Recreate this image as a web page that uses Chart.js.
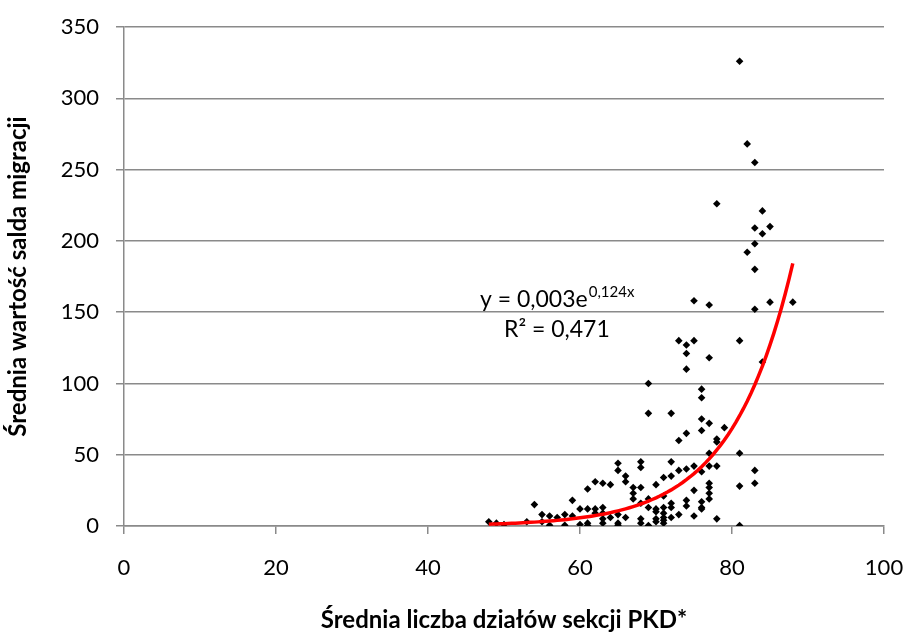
<!DOCTYPE html>
<html>
<head>
<meta charset="utf-8">
<script src="https://cdn.jsdelivr.net/npm/chart.js@4"></script>
<style>
  html, body { margin: 0; padding: 0; background: #fff; }
  #wrap { width: 907px; height: 633px; }
</style>
</head>
<body>
<div id="wrap"><canvas id="myChart" width="907" height="633"></canvas></div>
<script>
// srednia liczba dzialow PKD (x) i srednie saldo migracji (y)
let dzialy = [81,82,83,78,84,85,83,84,82,83,83,75,77,83,85,88,73,75,74,74,81,77,74,84,69,76,76,69,72,76,
  77,79,74,76,73,78,78,77,81,65,65,68,68,72,74,73,75,76,77,78,83,83,81,66,66,63,64,62,61,71,
  72,70,77,77,77,77,67,68,67,67,68,69,71,75,74,74,76,76,72,72,69,70,70,71,71,73,75,78,81,71,
  71,70,69,68,68,70,71,65,66,64,65,65,63,63,63,63,62,62,61,61,61,60,60,59,59,58,58,57,56,56,
  55,55,54,53,50,49,48,72,76]
let saldo = [326,268,255,226,221,210,209,205,192,198,180,158,155,152,157,157,130,130,127,121,130,118,110,115,100,96,90,79,79,75,
  72,69,65,67,60,61,59,51,51,44,39,45,41,45,40,39,42,38,42,42,39,30,28,35,31,30,29,31,26,34,
  35,29,30,27,23,19,27,27,23,19,16,19,21,25,18,14,17,12,16,13,13,12,10,13,9,8,7,5,0.3,6,
  2,3,0.3,5,2,5,4,8,6,6,2,0.5,13,9,5,2,12,9,12,2,0.3,12,1,18,7,8,0.5,6,7,0.5,
  8,3,15,3,1,2,3,6,13]

// linia trendu wykladniczego: y = a * e^(b x)
let trendA = 0.00336
let trendB = 0.124
let trendOd = 48
let trendDo = 88

let xTicks = [0,20,40,60,80,100]
let yTicks = [0,50,100,150,200,250,300,350]

let punkty = dzialy.map((x, i) => ({x: x, y: saldo[i]}))
let trend = []
for (let x = trendOd; x <= trendDo + 0.001; x += 0.5) {
  trend.push({x: x, y: trendA * Math.exp(trendB * x)})
}

const szary = '#8a8a8a'
const fontRodzina = 'Lato, "Open Sans", sans-serif'

const rownanie = {
  id: 'rownanie',
  afterDatasetsDraw(chart) {
    const ctx = chart.ctx
    ctx.save()
    ctx.fillStyle = '#000'
    ctx.textBaseline = 'alphabetic'
    ctx.font = '23px ' + fontRodzina
    ctx.fillText('y = 0,003e', 480, 307)
    let w = ctx.measureText('y = 0,003e').width
    ctx.font = '15px ' + fontRodzina
    ctx.fillText('0,124x', 480 + w + 1, 297)
    ctx.font = '23px ' + fontRodzina
    ctx.fillText('R\u00b2 = 0,471', 504, 337)
    ctx.restore()
  }
}

const config = {
  type: 'scatter',
  data: {
    datasets: [{
      label: 'punkty',
      data: punkty,
      pointStyle: 'rectRot',
      pointRadius: 3.8,
      backgroundColor: '#000',
      borderColor: '#000',
      borderWidth: 0,
      order: 2
    }, {
      type: 'line',
      label: 'trend',
      data: trend,
      borderColor: '#ff0000',
      borderWidth: 3.5,
      pointRadius: 0,
      fill: false,
      tension: 0,
      order: 1
    }]
  },
  options: {
    responsive: false,
    animation: false,
    layout: { padding: { top: 27, right: 23, left: 0, bottom: 0 } },
    plugins: { legend: { display: false }, tooltip: { enabled: false } },
    scales: {
      x: {
        type: 'linear',
        min: 0, max: 100,
        afterBuildTicks: (s) => { s.ticks = xTicks.map(v => ({value: v})) },
        afterFit: (s) => { s.height = 107; s.paddingRight = 0; s.paddingLeft = 0 },
        grid: { drawOnChartArea: false, drawTicks: true, tickLength: 8, color: szary, lineWidth: 1.5 },
        border: { color: szary, width: 1.5 },
        ticks: { color: '#000', padding: 21, font: { family: fontRodzina, size: 22 } },
        title: {
          display: true,
          text: 'Średnia liczba działów sekcji PKD*',
          color: '#000',
          font: { family: fontRodzina, size: 24, weight: 'bold', lineHeight: 1.05 },
          padding: { top: 0, bottom: 0 }
        }
      },
      y: {
        type: 'linear',
        min: 0, max: 350,
        afterBuildTicks: (s) => { s.ticks = yTicks.map(v => ({value: v})) },
        afterFit: (s) => { s.width = 124; s.paddingTop = 0; s.paddingBottom = 0 },
        grid: { drawOnChartArea: true, drawTicks: true, tickLength: 8, color: szary, lineWidth: 1.5 },
        border: { color: szary, width: 1.5 },
        ticks: { color: '#000', padding: 17, font: { family: fontRodzina, size: 22 } },
        title: {
          display: true,
          text: 'Średnia wartość salda migracji',
          color: '#000',
          font: { family: fontRodzina, size: 24, weight: 'bold' },
          padding: { top: 4, bottom: 0 }
        }
      }
    }
  },
  plugins: [rownanie]
}

var myChart = new Chart(document.getElementById('myChart'), config)
</script>
</body>
</html>
